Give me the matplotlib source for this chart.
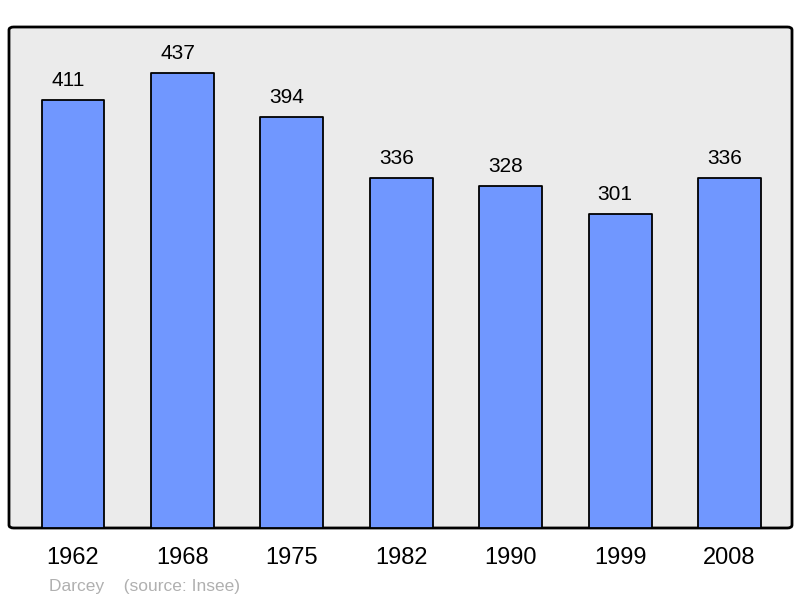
import matplotlib.pyplot as plt
from matplotlib.patches import FancyBboxPatch

plt.rcParams['font.family'] = ['Liberation Sans', 'DejaVu Sans']

# data
years = ["1962", "1968", "1975", "1982", "1990", "1999", "2008"]
population = [411, 437, 394, 336, 328, 301, 336]
source_text = "Darcey    (source: Insee)"

W, H = 800, 598
fig = plt.figure(figsize=(W / 100, H / 100), dpi=100)
ax = fig.add_axes([9 / W, (H - 528) / H, (792 - 9) / W, (528 - 27) / H])

x = list(range(len(years)))
bars = ax.bar(x, population, width=0.575, color="#7097ff", edgecolor="black",
              linewidth=1.3, zorder=2)
for b in bars:
    b.set_joinstyle("round")

ax.set_xlim(-0.585, len(years) - 1 + 0.57)
ax.set_ylim(0, max(population) * 1.1)
ax.set_facecolor("none")

# rounded frame
for s in ax.spines.values():
    s.set_visible(False)
frame = FancyBboxPatch((0, 0), 1, 1, boxstyle="round,pad=0,rounding_size=0.006",
                       transform=ax.transAxes, facecolor="#ebebeb", edgecolor="black",
                       linewidth=2, zorder=0, clip_on=False)
ax.add_patch(frame)

# value labels
for xi, v in zip(x, population):
    ax.annotate(str(v), (xi, v), xytext=(-5, 14), textcoords="offset pixels",
                ha="center", va="baseline", fontsize=15, color="black")

ax.set_yticks([])
ax.set_xticks(x)
ax.set_xticklabels(years, fontsize=17)
ax.tick_params(axis="x", length=0, pad=14)

fig.text(49 / W, 1 - 591 / H, source_text, fontsize=12.5, color="#b0b0b0",
         ha="left", va="baseline")

fig.savefig("out.png", dpi=100)
